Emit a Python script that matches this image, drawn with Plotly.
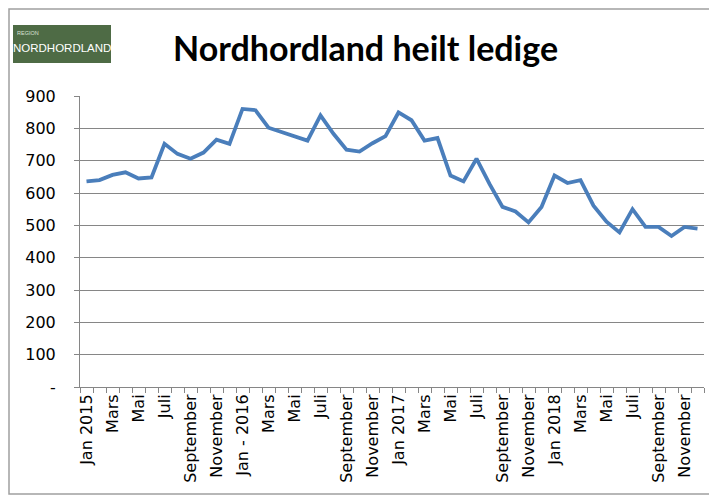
import plotly.graph_objects as go

tick_labels = ["Jan 2015", "Mars", "Mai", "Juli", "September", "November",
               "Jan - 2016", "Mars", "Mai", "Juli", "September", "November",
               "Jan 2017", "Mars", "Mai", "Juli", "September", "November",
               "Jan 2018", "Mars", "Mai", "Juli", "September", "November"]

ledige = [636, 640, 656, 664, 645, 648, 752, 721, 706, 725, 765, 752,
          860, 856, 802, 788, 775, 762, 840, 783, 734, 728, 754, 776,
          849, 825, 762, 770, 654, 636, 706, 628, 557, 543, 509, 557,
          654, 631, 640, 561, 511, 478, 550, 495, 495, 467, 495, 490]

y_ticks = [0, 100, 200, 300, 400, 500, 600, 700, 800, 900]
y_ticktext = ["-" if v == 0 else str(v) for v in y_ticks]

xs = list(range(len(ledige)))

fig = go.Figure()
fig.add_trace(go.Scatter(x=xs, y=ledige, mode="lines",
                         line=dict(color="#4A7EBB", width=3.8),
                         hoverinfo="skip", showlegend=False))

# page body has an 8px margin; figure is placed at (8,8)
OFF = 8
W, H = 717 - OFF, 495 - OFF
L, R, T, B = 80 - OFF, 13, 96 - OFF, 108
pw, ph = W - L - R, H - T - B

def px2paper_x(p):
    return (p - OFF - L) / pw

def px2paper_y(p):
    return (OFF + H - B - p) / ph

fig.update_layout(
    width=W, height=H,
    margin=dict(l=L, r=R, t=T, b=B),
    paper_bgcolor="white", plot_bgcolor="white",
    font=dict(family="DejaVu Sans", color="black", size=16),
    xaxis=dict(
        range=[-0.5, len(ledige) - 0.5], automargin=False,
        tickmode="array", tickvals=xs[::2], ticktext=tick_labels,
        tickangle=-90, ticks="", showgrid=False,
        showline=True, linecolor="#868686", linewidth=1,
        minor=dict(tickmode="linear", tick0=-0.5, dtick=1, ticks="outside",
                   ticklen=5, tickcolor="#868686", showgrid=False),
        tickfont=dict(size=16, family="DejaVu Sans"), zeroline=False, fixedrange=True,
    ),
    yaxis=dict(
        range=[0, 900], automargin=False,
        tickmode="array", tickvals=y_ticks, ticktext=y_ticktext,
        showgrid=True, gridcolor="#868686", gridwidth=1,
        showline=True, linecolor="#868686", linewidth=1,
        ticks="outside", ticklen=5, tickcolor="#868686",
        tickfont=dict(size=16, family="DejaVu Sans"), zeroline=False, ticklabelstandoff=15,
    ),
    shapes=[
        dict(type="rect", xref="paper", yref="paper",
             x0=px2paper_x(9), x1=px2paper_x(712), y0=px2paper_y(494), y1=px2paper_y(9),
             line=dict(color="#A0A0A0", width=1.5), fillcolor="rgba(0,0,0,0)", layer="below"),
        dict(type="rect", xref="paper", yref="paper",
             x0=px2paper_x(13), x1=px2paper_x(111), y0=px2paper_y(63), y1=px2paper_y(25),
             line=dict(width=0), fillcolor="#4E6B45", layer="above"),
    ],
    annotations=[
        dict(text="<b>Nordhordland heilt ledige</b>", xref="paper", yref="paper",
             x=px2paper_x(365), y=px2paper_y(48), xanchor="center", yanchor="middle",
             showarrow=False, font=dict(size=34, color="black",
                                        family="Lato, sans-serif")),
        dict(text="REGION", xref="paper", yref="paper",
             x=px2paper_x(15), y=px2paper_y(33), xanchor="left", yanchor="middle",
             showarrow=False, font=dict(size=5.5, color="#D8E0D4", family="Liberation Sans Narrow, sans-serif")),
        dict(text="NORDHORDLAND", xref="paper", yref="paper",
             x=px2paper_x(62), y=px2paper_y(48), xanchor="center", yanchor="middle",
             showarrow=False, font=dict(size=11.5, color="white", family="Liberation Sans Narrow, sans-serif")),
    ],
)

fig.write_html("out.html")
